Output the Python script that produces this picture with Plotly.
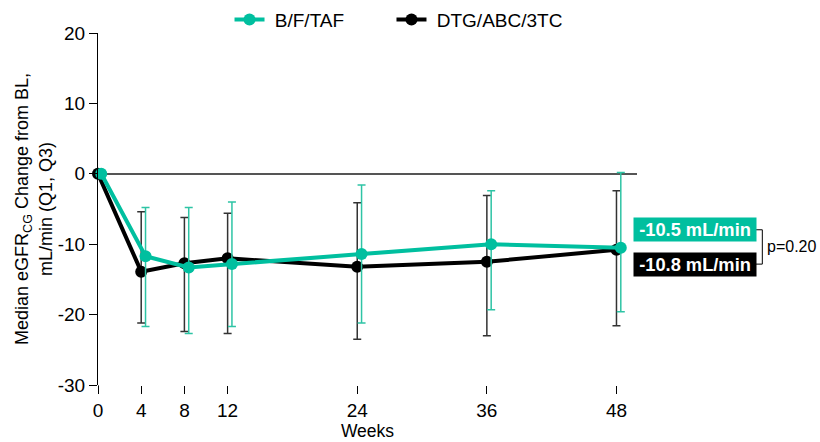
import plotly.graph_objects as go

weeks = [0, 4, 8, 12, 24, 36, 48]

bft_median = [0, -11.7, -13.3, -12.8, -11.4, -10.0, -10.5]
bft_q3 = [0, -4.8, -4.8, -4.0, -1.6, -2.4, 0.2]
bft_q1 = [0, -21.7, -22.7, -21.7, -21.2, -19.3, -19.6]

dtg_median = [0, -13.9, -12.7, -12.0, -13.2, -12.5, -10.8]
dtg_q3 = [0, -5.4, -6.2, -5.6, -4.1, -3.1, -2.4]
dtg_q1 = [0, -21.2, -22.4, -22.7, -23.5, -23.0, -21.6]

series_names = ["B/F/TAF", "DTG/ABC/3TC"]
end_labels = ["-10.5 mL/min", "-10.8 mL/min"]
p_label = "p=0.20"
x_ticks = [0, 4, 8, 12, 24, 36, 48]
y_ticks = [-30, -20, -10, 0, 10, 20]

GREEN = "#00BF9F"
GREEN_ERR = "#2EC4A5"
BLACK = "#000000"
BLACK_ERR = "#333333"

green_shift = 0.4  # slight horizontal dodge of the green series

fig = go.Figure()

fig.add_trace(go.Scatter(
    x=weeks, y=dtg_median, name="\u00a0" + series_names[1], mode="lines+markers",
    line=dict(color=BLACK, width=4), marker=dict(color=BLACK, size=12),
    error_y=dict(type="data", symmetric=False,
                 array=[q - m for q, m in zip(dtg_q3, dtg_median)],
                 arrayminus=[m - q for q, m in zip(dtg_q1, dtg_median)],
                 color=BLACK_ERR, thickness=1.5, width=4),
    cliponaxis=False, legend="legend2",
))

fig.add_trace(go.Scatter(
    x=[w + green_shift if w > 0 else w + 0.3 for w in weeks], y=bft_median,
    name="\u00a0" + series_names[0], mode="lines+markers",
    line=dict(color=GREEN, width=4), marker=dict(color=GREEN, size=12),
    error_y=dict(type="data", symmetric=False,
                 array=[q - m for q, m in zip(bft_q3, bft_median)],
                 arrayminus=[m - q for q, m in zip(bft_q1, bft_median)],
                 color=GREEN_ERR, thickness=1.5, width=4),
    cliponaxis=False, legend="legend",
))

font_family = "Liberation Sans, Arial, sans-serif"

fig.update_layout(
    width=820, height=442,
    margin=dict(l=98, r=183, t=33, b=57, autoexpand=False),
    paper_bgcolor="white", plot_bgcolor="white",
    font=dict(family=font_family, color="black"),
    showlegend=True, hovermode=False,
    legend=dict(orientation="h", x=0.244, xanchor="left", y=1.092, yanchor="top",
                font=dict(size=19), bgcolor="rgba(0,0,0,0)"),
    legend2=dict(orientation="h", x=0.5445, xanchor="left", y=1.092, yanchor="top",
                 font=dict(size=19), bgcolor="rgba(0,0,0,0)"),
    xaxis=dict(range=[0, 49.9], tickvals=x_ticks, ticktext=[str(t) for t in x_ticks],
               showgrid=False, zeroline=False, showline=False, automargin=False,
               ticks="outside", ticklen=8, tickwidth=1, tickcolor="black",
               tickfont=dict(size=19),
               title=dict(text="Weeks", font=dict(size=17.5), standoff=3)),
    yaxis=dict(range=[-30, 20], tickvals=y_ticks, ticktext=[str(t) for t in y_ticks],
               showgrid=False, zeroline=True, zerolinecolor="#555555", zerolinewidth=1.5,
               showline=True, linecolor="black", linewidth=1.2, automargin=False,
               ticks="outside", ticklen=8, tickwidth=1, tickcolor="black",
               tickfont=dict(size=19),
               title=dict(text="Median eGFR<sub>CG</sub> Change from BL,<br>mL/min (Q1, Q3)",
                          font=dict(size=18), standoff=0)),
)

# y-axis line extension down through the x tick row
fig.add_shape(type="line", xref="x", yref="paper", x0=0, x1=0, y0=0, y1=-0.023,
              line=dict(color="black", width=1.2))

# end-of-study labels
fig.add_annotation(xref="paper", yref="y", x=0.993, y=bft_median[-1] + 2.55,
                   xanchor="left", yanchor="middle", showarrow=False,
                   text="<b>" + end_labels[0] + "</b>", width=120, align="center",
                   font=dict(size=18.3, color="white"), bgcolor=GREEN, borderpad=1)
fig.add_annotation(xref="paper", yref="y", x=0.993, y=dtg_median[-1] - 2.05,
                   xanchor="left", yanchor="middle", showarrow=False,
                   text="<b>" + end_labels[1] + "</b>", width=120, align="center",
                   font=dict(size=18.3, color="white"), bgcolor=BLACK, borderpad=1)

# bracket for p value
fig.add_shape(type="path", xref="paper", yref="y",
              path="M 1.2176 -7.95 L 1.2325 -7.95 L 1.2325 -12.83 L 1.2176 -12.83",
              line=dict(color="black", width=1))
fig.add_annotation(xref="paper", yref="y", x=1.2375, y=-10.35, xanchor="left",
                   yanchor="middle", showarrow=False, text=p_label,
                   font=dict(size=16, color="black"))

fig.write_html("out.html", config={"displayModeBar": False},
               post_script="document.body.style.margin='0';")
